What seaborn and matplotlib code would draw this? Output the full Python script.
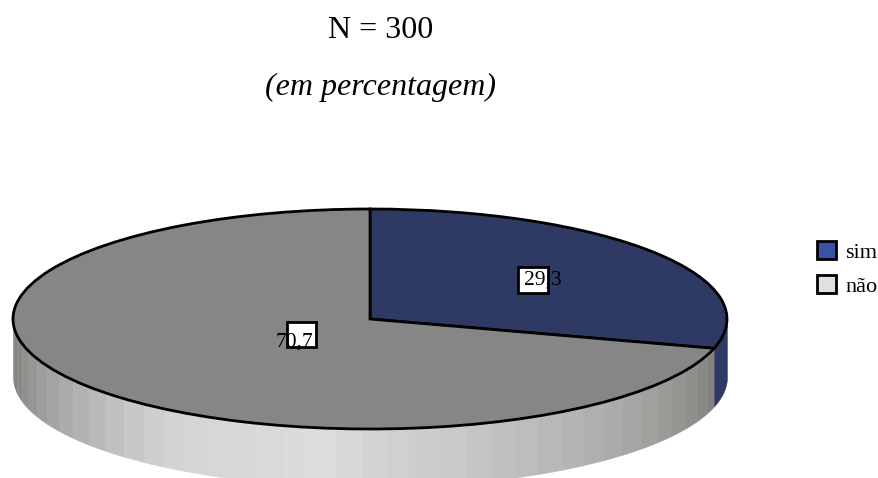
import numpy as np
import matplotlib
matplotlib.use("Agg")
import matplotlib.pyplot as plt
from matplotlib.patches import Patch, Rectangle
import seaborn as sns

categories = ["sim", "não"]
values = [29.3, 70.7]
value_labels = ["29,3", "70,7"]
top_colors = ["#2e3a64", "#868686"]
legend_colors = ["#3a53a4", "#e0e0e0"]

sns.set_theme(style="white")
plt.rcParams["font.family"] = ["Liberation Serif", "DejaVu Sans"]

W, H = 879, 478
fig = plt.figure(figsize=(W / 100, H / 100), dpi=100)

# pie axes: unit circle squashed to the ellipse
cx, cy, rx, ry = 370, 319, 357, 110
depth = 58 / ry
ax = fig.add_axes([0, 0, 1, 1])
ax.pie(values, colors=top_colors, startangle=90, counterclock=False, radius=1,
       wedgeprops={"edgecolor": "black", "linewidth": 2, "zorder": 3})
ax.set_aspect("auto")
ax.set_xlim(-cx / rx, (W - cx) / rx)
ax.set_ylim(-(H - cy) / ry, cy / ry)

# side wall of the disc
split = 90 - values[0] / sum(values) * 360
def wall(a0, a1, color):
    t = np.radians(np.linspace(a0, a1, 12))
    ax.fill_between(np.cos(t), np.sin(t) - depth, np.sin(t), color=color, lw=0.3, zorder=1)

edges = np.linspace(-180, split, 40)
grey = sns.blend_palette(["#7d7e7a", "#a6a6a6", "#d4d4d4", "#dcdcdc", "#c4c4c4", "#a8a8a6", "#84847f"], len(edges) - 1)
for i in range(len(edges) - 1):
    wall(edges[i], edges[i + 1], grey[i])
wall(split, 0, "#2d3a66")

# overlay in pixel coordinates for text, boxes and legend
ov = fig.add_axes([0, 0, 1, 1], facecolor="none")
ov.set_xlim(0, W)
ov.set_ylim(H, 0)
ov.axis("off")

ov.text(381, 30.5, "N = 300", ha="center", va="center", fontsize=23, color="black")
ov.text(381, 87.5, "(em percentagem)", ha="center", va="center", fontsize=23, style="italic", color="black")

ov.add_patch(Rectangle((518.5, 267), 30, 26, fc="white", ec="black", lw=2))
ov.add_patch(Rectangle((287, 322), 29, 25, fc="white", ec="black", lw=2))
ov.text(542.5, 280, value_labels[0], ha="center", va="center", fontsize=15.5, color="black")
ov.text(294.5, 342, value_labels[1], ha="center", va="center", fontsize=15.5, color="black")

handles = [Patch(facecolor=c, edgecolor="black", linewidth=2) for c in legend_colors]
ov.legend(handles, categories, loc="upper left", bbox_to_anchor=(813 / W, 1 - 237 / H),
          frameon=False, fontsize=16, labelcolor="black", handlelength=0.85, handleheight=0.85,
          handletextpad=0.4, labelspacing=0.55, borderpad=0.2, borderaxespad=0)

fig.savefig("out.png", dpi=100)
